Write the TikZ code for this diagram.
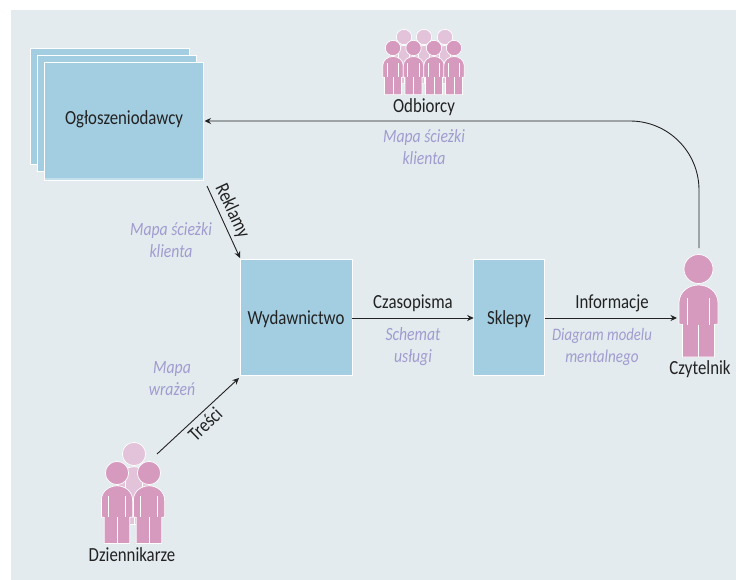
\documentclass[tikz,border=0pt]{standalone}
\usepackage{fontspec}
\setmainfont[FakeStretch=0.84,ItalicFont={Carlito Italic},BoldFont={Carlito Bold}]{Carlito}
\usetikzlibrary{arrows.meta}
\definecolor{bgc}{HTML}{E3EBEE}
\definecolor{boxc}{HTML}{A3CDE1}
\definecolor{pink}{HTML}{D79ABF}
\definecolor{pinklt}{HTML}{E3C3DA}
\definecolor{lilac}{HTML}{A09CD0}
\definecolor{ink}{HTML}{222222}
\newcommand{\notesize}[1]{\fontsize{#1}{22}\selectfont}
\tikzset{
  panel/.style={draw=white,line width=0.8pt,fill=boxc,outer sep=0pt,inner sep=0pt},
  lbl/.style={text=ink,font=\fontsize{20}{22}\selectfont,inner sep=0pt},
  note/.style={text=lilac,font=\fontsize{18.7}{22}\selectfont\itshape,align=center,inner sep=0pt},
  link/.style={draw=ink,line width=0.9pt,-{Stealth[length=6.5pt,width=6pt]}},
  pics/person/.style={code={
    \path[fill=#1,draw=white,line width=0.7pt] (0,0) circle[radius=14.5];
    \path[fill=#1,draw=white,line width=0.7pt]
      (-19.5,55) -- (-19.5,34) .. controls (-19.5,23) and (-10,16) .. (0,16)
      .. controls (10,16) and (19.5,23) .. (19.5,34) -- (19.5,55) -- (16,55.5) -- (16,88)
      -- (-16,88) -- (-16,55.5) -- (-19.5,55) -- cycle;
    \path[draw=white,line width=0.7pt] (0,55.5) -- (0,88) (-11,29) -- (-11,55.5) (11,29) -- (11,55.5);
  }}
}
\begin{document}
\begin{tikzpicture}[x=1pt,y=-1pt]
\useasboundingbox (0,0) rectangle (736,580);
\fill[bgc] (11,10) rectangle (736,580);
% advertisers stack
\path[panel] (30.5,48.5) rectangle (189.5,164);
\path[panel] (37.5,55.5) rectangle (196.5,171);
\node[panel,minimum width=159pt,minimum height=118pt,anchor=north west] (adv) at (44.7,62.5) {};
\fill[white!35!boxc] (45.1,178.4) rectangle (203.3,180.2);
\node[lbl] (advt) at (124,119.5) {Ogłoszeniodawcy};
% boxes
\node[panel,minimum width=111.5pt,minimum height=115.5pt,anchor=north west] (pub) at (240.7,259.8) {};
\node[lbl] (pubt) at (296,319) {Wydawnictwo};
\node[panel,minimum width=71pt,minimum height=115.5pt,anchor=north west] (shop) at (473.7,259.8) {};
\node[lbl] (shopt) at (509,319) {Sklepy};
% audience
\foreach \x in {404,424,445}{\pic[scale=.53] at (\x,37) {person=pinklt};}
\foreach \x in {393,413.5,434,454}{\pic[scale=.53] at (\x,48) {person=pink};}
\node[lbl] (audt) at (424,107) {Odbiorcy};
% journalists
\pic[scale=.8] at (134,454) {person=pinklt};
\pic[scale=.8] at (117,473) {person=pink};
\pic[scale=.8] at (149,473) {person=pink};
\coordinate (jour) at (157,454);
\node[lbl] (jourt) at (132,555) {Dziennikarze};
% reader
\pic at (698.5,269) {person=pink};
\coordinate (read) at (699,248);
\coordinate (readin) at (677,318);
\node[lbl] (readt) at (700,369) {Czytelnik};
% connectors
\coordinate (advin) at (204.5,121);
\draw[link] (read) -- (699,190) arc[start angle=0,end angle=-90,radius=69] -- (advin);
\coordinate (advout) at (207,186);
\coordinate (pubtop) at (240,258);
\draw[link] (advout) -- (pubtop);
\coordinate (publeft) at (239,378);
\draw[link] (jour) -- (publeft);
\draw[link] (pub.east |- 0,318) -- (shop.west |- 0,318);
\draw[link] (shop.east |- 0,318) -- (readin);
% connector labels
\node[lbl,rotate=-65] (l1) at (232,211) {Reklamy};
\node[lbl,rotate=44] (l2) at (205,424) {Treści};
\node[lbl] (l3) at (413,303) {Czasopisma};
\node[lbl] (l4) at (612,303) {Informacje};
% notes
\node[note] (n1) at (424,147) {Mapa ścieżki\\klienta};
\node[note] (n2) at (171,240) {Mapa ścieżki\\klienta};
\node[note] (n3) at (172,379) {Mapa\\wrażeń};
\node[note] (n4) at (413,347) {Schemat\\usługi};
\node[note] (n5) at (602,347) {{\notesize{17.5}Diagram modelu}\\{\notesize{18}mentalnego}};
\end{tikzpicture}
\end{document}
